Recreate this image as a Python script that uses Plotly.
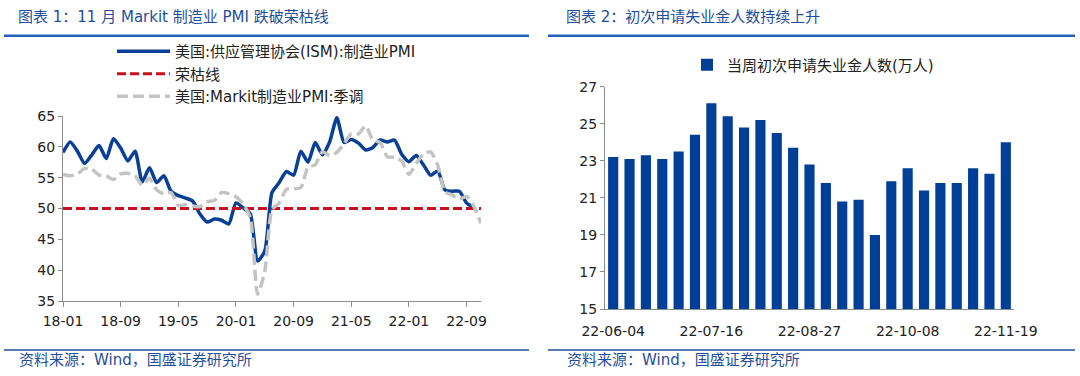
import pandas as pd
import plotly.graph_objects as go

# ---------------- data ----------------
months = [p.strftime("%y-%m") for p in pd.period_range("2018-01", "2022-11", freq="M")]
ism_pmi = [59.1, 60.8, 59.3, 57.3, 58.7, 60.2, 58.1, 61.3, 59.8, 57.7, 59.3, 54.3,
           56.6, 54.2, 55.3, 52.8, 52.1, 51.7, 51.2, 49.1, 47.8, 48.3, 48.1, 47.5,
           50.9, 50.1, 49.1, 41.5, 43.1, 52.6, 54.2, 56.0, 55.4, 59.3, 57.5, 60.7,
           58.7, 60.8, 64.7, 60.7, 61.2, 60.6, 59.5, 59.9, 61.1, 60.8, 61.1, 58.8,
           57.6, 58.6, 57.1, 55.4, 56.1, 53.0, 52.8, 52.8, 50.9, 50.2]
markit_pmi = [55.5, 55.3, 55.6, 56.5, 56.4, 55.4, 55.3, 54.7, 55.6, 55.7, 55.3, 53.8,
              54.9, 53.0, 52.4, 52.6, 50.5, 50.6, 50.4, 50.3, 51.1, 51.3, 52.6, 52.4,
              51.9, 50.7, 48.5, 36.1, 39.8, 49.8, 50.9, 53.1, 53.2, 53.4, 56.7, 57.1,
              59.2, 58.6, 59.1, 60.5, 62.1, 62.1, 63.4, 61.1, 60.7, 58.4, 58.3, 57.7,
              55.5, 57.3, 58.8, 59.2, 57.0, 52.7, 52.2, 51.5, 52.0, 50.4, 47.6]
boom_bust = [50] * len(months)
left_ticks = ["18-01", "18-09", "19-05", "20-01", "20-09", "21-05", "22-01", "22-09"]

weeks = [d.strftime("%y-%m-%d") for d in pd.date_range("2022-06-04", periods=25, freq="7D")]
claims = [23.2, 23.1, 23.3, 23.1, 23.5, 24.4, 26.1, 25.4, 24.8, 25.2, 24.5, 23.7, 22.8,
          21.8, 20.8, 20.9, 19.0, 21.9, 22.6, 21.4, 21.8, 21.8, 22.6, 22.3, 24.0]
right_ticks = ["22-06-04", "22-07-16", "22-08-27", "22-10-08", "22-11-19"]

# ---------------- styling ----------------
W, H = 1080, 376
FONT = "DejaVu Sans, Noto Sans CJK SC, sans-serif"
TITLE_BLUE = "#1F4E9A"
RULE_BLUE = "#2462B8"
AXIS_GRAY = "#8C8C8C"

def px(x):
    return x / W

def py(y):
    return 1 - y / H

fig = go.Figure()

fig.add_trace(go.Scatter(x=months[:len(ism_pmi)], y=ism_pmi, mode="lines",
                         name="美国:供应管理协会(ISM):制造业PMI",
                         line=dict(color="#0A3F96", width=3.5, shape="spline", smoothing=0.6),
                         xaxis="x", yaxis="y", legend="legend"))
fig.add_trace(go.Scatter(x=months, y=boom_bust, mode="lines", name="荣枯线",
                         line=dict(color="#C8101E", width=3, dash="9px,4px"),
                         xaxis="x", yaxis="y", legend="legend"))
fig.add_trace(go.Scatter(x=months, y=markit_pmi, mode="lines",
                         name="美国:Markit制造业PMI:季调",
                         line=dict(color="#C4C4C4", width=3.5, dash="11px,5px",
                                   shape="spline", smoothing=0.6),
                         xaxis="x", yaxis="y", legend="legend"))

fig.add_trace(go.Bar(x=weeks, y=claims, name="当周初次申请失业金人数(万人)",
                     marker=dict(color="#003F98", line=dict(width=0)),
                     xaxis="x2", yaxis="y2", legend="legend2"))

axis_font = dict(family=FONT, size=14, color="#222222")
common = dict(showgrid=False, zeroline=False, showline=True, linecolor=AXIS_GRAY,
              linewidth=1, tickcolor=AXIS_GRAY, tickfont=axis_font, automargin=False)

fig.update_layout(
    width=W, height=H,
    margin=dict(l=0, r=0, t=0, b=0, autoexpand=False),
    paper_bgcolor="white", plot_bgcolor="white",
    font=dict(family=FONT, size=14, color="#222222"),
    bargap=0.38,
    xaxis=dict(domain=[px(63), px(481)], type="category", range=[0, len(months) - 1],
               tickmode="array", tickvals=left_ticks, ticktext=left_ticks,
               ticks="outside", ticklen=5, ticklabelstandoff=2, anchor="y", **common),
    yaxis=dict(domain=[py(301), py(116)], range=[35, 65], tick0=35, dtick=5,
               ticks="outside", ticklen=4, anchor="x", **common),
    xaxis2=dict(domain=[px(605), px(1014)], type="category", range=[-0.5, len(weeks) - 0.5],
                tickmode="array", tickvals=right_ticks, ticktext=right_ticks,
                ticks="", ticklabelstandoff=9, anchor="y2", **common),
    yaxis2=dict(domain=[py(309), py(86.7)], range=[15, 27], tick0=15, dtick=2,
                ticks="outside", ticklen=4, anchor="x2", **common),
    legend=dict(x=px(112), y=py(35), xanchor="left", yanchor="top",
                bgcolor="rgba(0,0,0,0)", font=dict(family=FONT, size=15, color="#222222"),
                itemwidth=53, tracegroupgap=0, traceorder="normal"),
    legend2=dict(x=px(813), y=py(65), xanchor="center", yanchor="middle",
                 bgcolor="rgba(0,0,0,0)", font=dict(family=FONT, size=15, color="#222222")),
    showlegend=True,
)

# Rules
shapes = []
for x0, x1 in [(4, 529), (548, 1075)]:
    shapes.append(dict(type="line", xref="paper", yref="paper", x0=px(x0), x1=px(x1),
                       y0=py(35.8), y1=py(35.8), line=dict(color=RULE_BLUE, width=2.5)))
    shapes.append(dict(type="line", xref="paper", yref="paper", x0=px(x0), x1=px(x1),
                       y0=py(350), y1=py(350), line=dict(color="#1F4E9A", width=1.5)))
fig.update_layout(shapes=shapes)

annotations = [
    dict(text="图表 1：11 月 Markit 制造业 PMI 跌破荣枯线", x=px(16), y=py(17)),
    dict(text="图表 2：初次申请失业金人数持续上升", x=px(564), y=py(17)),
    dict(text="资料来源：Wind，国盛证券研究所", x=px(17), y=py(360)),
    dict(text="资料来源：Wind，国盛证券研究所", x=px(565), y=py(360)),
]
for a in annotations:
    a.update(xref="paper", yref="paper", xanchor="left", yanchor="middle", align="left",
             showarrow=False, font=dict(family=FONT, size=15, color=TITLE_BLUE))
fig.update_layout(annotations=annotations)

fig.write_html("out.html", config={"displayModeBar": False},
               post_script="document.body.style.margin='0px';document.body.style.overflow='hidden';")
